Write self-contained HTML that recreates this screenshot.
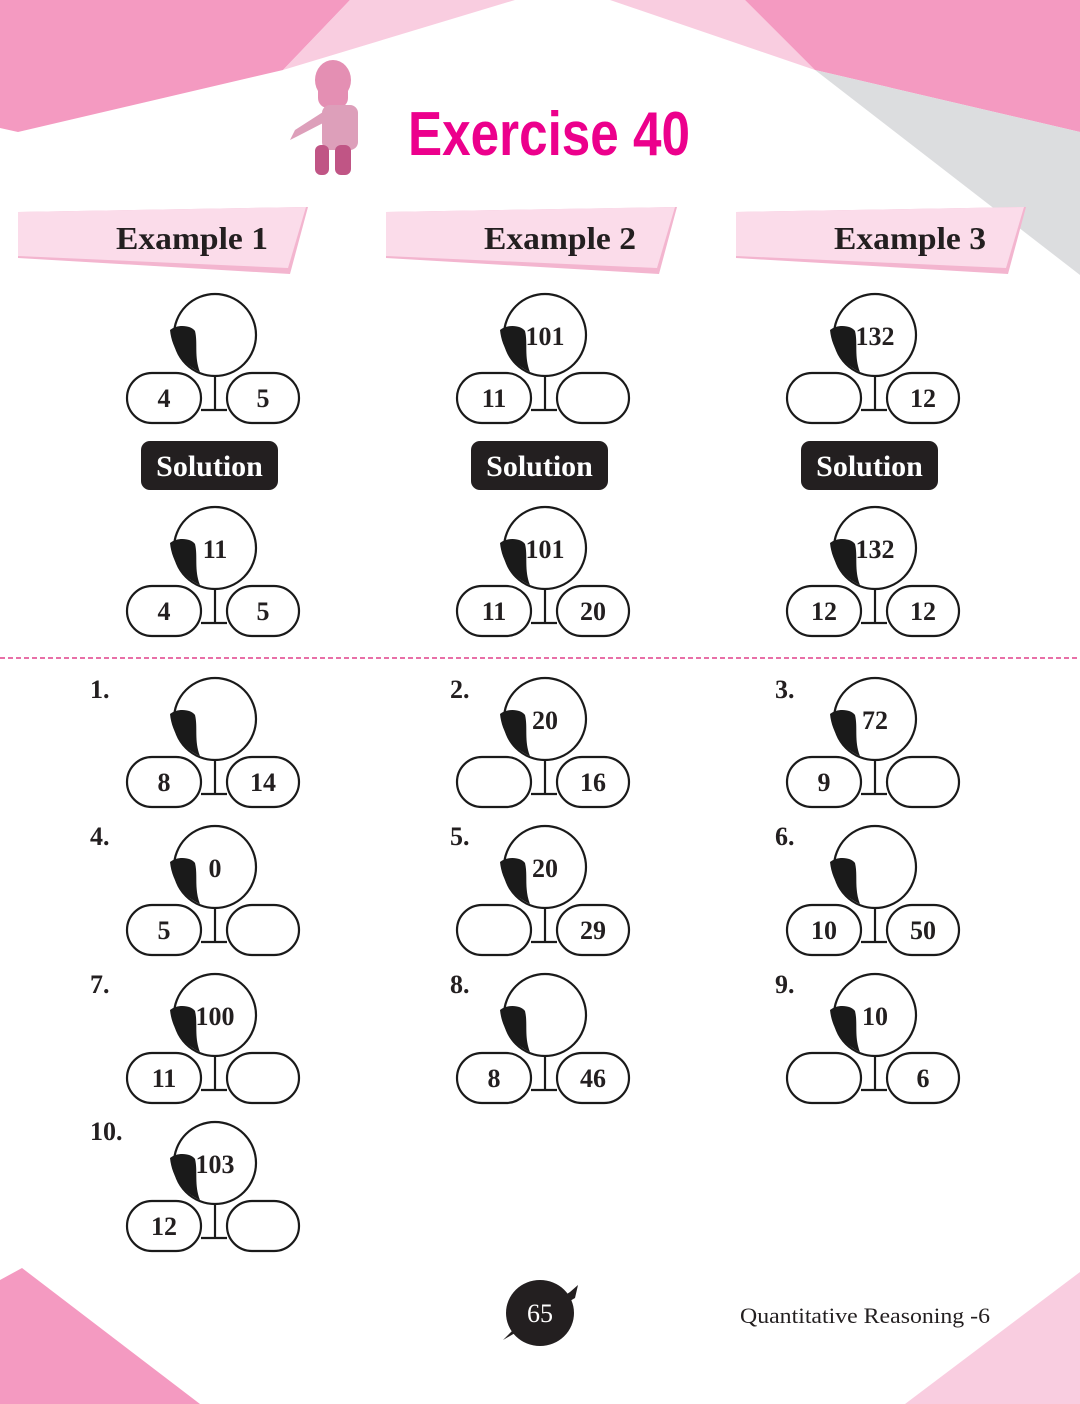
<!DOCTYPE html>
<html><head><meta charset="utf-8"><style>
html,body{margin:0;padding:0;background:#fff}
svg{display:block}
text{font-family:"Liberation Serif",serif;font-weight:bold}
</style></head><body>
<svg width="1080" height="1404" viewBox="0 0 1080 1404" xmlns="http://www.w3.org/2000/svg">
<defs>
<g id="n">
<circle cx="0" cy="0" r="41" fill="#fff" stroke="#1a1a1a" stroke-width="2.2"/>
<path d="M-45,-5 C-38,-11 -24,-10 -20,-4 C-17,8 -21,22 -15,37 C-31,30 -43,15 -45,-5 Z" fill="#1a1a1a"/>
<rect x="-88" y="38" width="74" height="50" rx="25" fill="#fff" stroke="#1a1a1a" stroke-width="2.2"/>
<rect x="12" y="38" width="72" height="50" rx="25" fill="#fff" stroke="#1a1a1a" stroke-width="2.2"/>
<path d="M0,41 V75 M-14,75 H12" stroke="#1a1a1a" stroke-width="2.2" fill="none"/>
</g>
</defs>
<polygon points="0,0 350,0 283,70 18,132 0,128" fill="#f49ac1"/>
<polygon points="283,70 350,0 515,0" fill="#f9cde0"/>
<polygon points="610,0 745,0 815,70" fill="#f9cde0"/>
<polygon points="745,0 1080,0 1080,132 815,70" fill="#f49ac1"/>
<polygon points="815,70 1080,132 1080,275" fill="#dcdddf"/>
<polygon points="0,1280 22,1268 200,1404 0,1404" fill="#f49ac1"/>
<polygon points="905,1404 1080,1272 1080,1404" fill="#f9cde0"/>
<g>
<ellipse cx="333" cy="80" rx="18" ry="20" fill="#e48fb3"/>
<rect x="318" y="78" width="30" height="30" rx="10" fill="#e48fb3"/>
<rect x="322" y="105" width="36" height="45" rx="8" fill="#dd9fba"/>
<path d="M323,112 L295,130 L290,140 L298,136 L325,122Z" fill="#dd9fba"/>
<rect x="315" y="145" width="14" height="30" rx="6" fill="#c05585"/>
<rect x="335" y="145" width="16" height="30" rx="6" fill="#c05585"/>
</g>
<text x="408" y="155" font-size="62" font-weight="bold" fill="#ec008c" textLength="282" lengthAdjust="spacingAndGlyphs" style="font-family:'Liberation Sans',sans-serif">Exercise 40</text>
<g>
<polygon points="18,212 308,207 290,274 18,258" fill="#f3b5cf"/>
<polygon points="18,212 306,207 288,268 18,256" fill="#fbdcea"/>
<text x="116" y="249" font-size="32" fill="#231f20" textLength="152" lengthAdjust="spacingAndGlyphs">Example 1</text>
<polygon points="386,212 677,207 659,274 386,258" fill="#f3b5cf"/>
<polygon points="386,212 675,207 657,268 386,256" fill="#fbdcea"/>
<text x="484" y="249" font-size="32" fill="#231f20" textLength="152" lengthAdjust="spacingAndGlyphs">Example 2</text>
<polygon points="736,212 1026,207 1008,274 736,258" fill="#f3b5cf"/>
<polygon points="736,212 1024,207 1006,268 736,256" fill="#fbdcea"/>
<text x="834" y="249" font-size="32" fill="#231f20" textLength="152" lengthAdjust="spacingAndGlyphs">Example 3</text>
</g>
<g>
<rect x="141" y="441" width="137" height="49" rx="9" fill="#231f20"/>
<text x="209.5" y="476" font-size="30" fill="#fff" text-anchor="middle">Solution</text>
<rect x="471" y="441" width="137" height="49" rx="9" fill="#231f20"/>
<text x="539.5" y="476" font-size="30" fill="#fff" text-anchor="middle">Solution</text>
<rect x="801" y="441" width="137" height="49" rx="9" fill="#231f20"/>
<text x="869.5" y="476" font-size="30" fill="#fff" text-anchor="middle">Solution</text>
</g>
<line x1="0" y1="658" x2="1080" y2="658" stroke="#e0408a" stroke-width="1.5" stroke-dasharray="5,3"/>
<g font-size="26" fill="#231f20" text-anchor="middle">
<g transform="translate(215,335)"><use href="#n"/><text x="-51" y="72">4</text><text x="48" y="72">5</text></g>
<g transform="translate(545,335)"><use href="#n"/><text x="0" y="10">101</text><text x="-51" y="72">11</text></g>
<g transform="translate(875,335)"><use href="#n"/><text x="0" y="10">132</text><text x="48" y="72">12</text></g>
<g transform="translate(215,548)"><use href="#n"/><text x="0" y="10">11</text><text x="-51" y="72">4</text><text x="48" y="72">5</text></g>
<g transform="translate(545,548)"><use href="#n"/><text x="0" y="10">101</text><text x="-51" y="72">11</text><text x="48" y="72">20</text></g>
<g transform="translate(875,548)"><use href="#n"/><text x="0" y="10">132</text><text x="-51" y="72">12</text><text x="48" y="72">12</text></g>
<g transform="translate(215,719)"><use href="#n"/><text x="-51" y="72">8</text><text x="48" y="72">14</text></g>
<g transform="translate(545,719)"><use href="#n"/><text x="0" y="10">20</text><text x="48" y="72">16</text></g>
<g transform="translate(875,719)"><use href="#n"/><text x="0" y="10">72</text><text x="-51" y="72">9</text></g>
<g transform="translate(215,867)"><use href="#n"/><text x="0" y="10">0</text><text x="-51" y="72">5</text></g>
<g transform="translate(545,867)"><use href="#n"/><text x="0" y="10">20</text><text x="48" y="72">29</text></g>
<g transform="translate(875,867)"><use href="#n"/><text x="-51" y="72">10</text><text x="48" y="72">50</text></g>
<g transform="translate(215,1015)"><use href="#n"/><text x="0" y="10">100</text><text x="-51" y="72">11</text></g>
<g transform="translate(545,1015)"><use href="#n"/><text x="-51" y="72">8</text><text x="48" y="72">46</text></g>
<g transform="translate(875,1015)"><use href="#n"/><text x="0" y="10">10</text><text x="48" y="72">6</text></g>
<g transform="translate(215,1163)"><use href="#n"/><text x="0" y="10">103</text><text x="-51" y="72">12</text></g>
</g>
<g font-size="26" fill="#231f20">
<text x="90" y="698">1.</text><text x="450" y="698">2.</text><text x="775" y="698">3.</text>
<text x="90" y="845">4.</text><text x="450" y="845">5.</text><text x="775" y="845">6.</text>
<text x="90" y="993">7.</text><text x="450" y="993">8.</text><text x="775" y="993">9.</text>
<text x="90" y="1140">10.</text>
</g>
<path d="M503,1340 L515,1328 L570,1292 L578,1285 L575,1298 Z" fill="#231f20"/>
<ellipse cx="540" cy="1313" rx="34" ry="33" fill="#231f20"/>
<text x="540" y="1322" font-size="26" fill="#fff" text-anchor="middle" style="font-weight:normal">65</text>
<text x="740" y="1323" font-size="22" fill="#231f20" textLength="250" lengthAdjust="spacingAndGlyphs" style="font-weight:normal">Quantitative Reasoning -6</text>
</svg>
</body></html>
